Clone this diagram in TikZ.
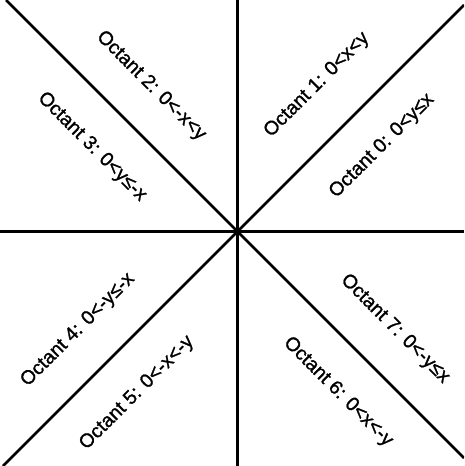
\documentclass[tikz,border=0pt]{standalone}
\usepackage{fontspec}
\setmainfont{Liberation Sans}
\newfontfamily\lblfont[FakeBold=1.2]{Liberation Sans}
\begin{document}
\begin{tikzpicture}[x=1pt,y=-1pt,
  axis/.style={line width=2.6pt,black},
  lbl/.style={font=\lblfont\fontsize{19.5}{22}\selectfont, inner sep=0pt, anchor=center}]
\useasboundingbox (0,0) rectangle (464,466);
\coordinate (c) at (237.5,231.5);
\coordinate (top) at (237.5,0);
\coordinate (bot) at (237.5,466);
\coordinate (lft) at (0,231.5);
\coordinate (rgt) at (464,231.5);
\coordinate (tl) at (6,0);
\coordinate (br) at (464,458);
\coordinate (tr) at (464,5);
\coordinate (bl) at (3,466);
\begin{scope}
\clip (0,0) rectangle (464,466);
\draw[axis] (top) -- (bot);
\draw[axis] (lft) -- (rgt);
\draw[axis] (tl) -- (c) -- (br);
\draw[axis] (bl) -- (c) -- (tr);
\end{scope}
\node[lbl, rotate=45]  (o0) at (382,146) {Octant 0: 0<y≤x};
\node[lbl, rotate=45]  (o1) at (317,85)  {Octant 1: 0<x<y};
\node[lbl, rotate=-45] (o2) at (151,86)  {Octant 2: 0<-x<y};
\node[lbl, rotate=-45] (o3) at (92,147)  {Octant 3: 0<y≤-x};
\node[lbl, rotate=45]  (o4) at (78,330)  {Octant 4: 0<-y≤-x};
\node[lbl, rotate=45]  (o5) at (137,393) {Octant 5: 0<-x<-y};
\node[lbl, rotate=-45] (o6) at (338,392) {Octant 6: 0<x<-y};
\node[lbl, rotate=-45] (o7) at (395,329) {Octant 7: 0<-y≤x};
\end{tikzpicture}
\end{document}
